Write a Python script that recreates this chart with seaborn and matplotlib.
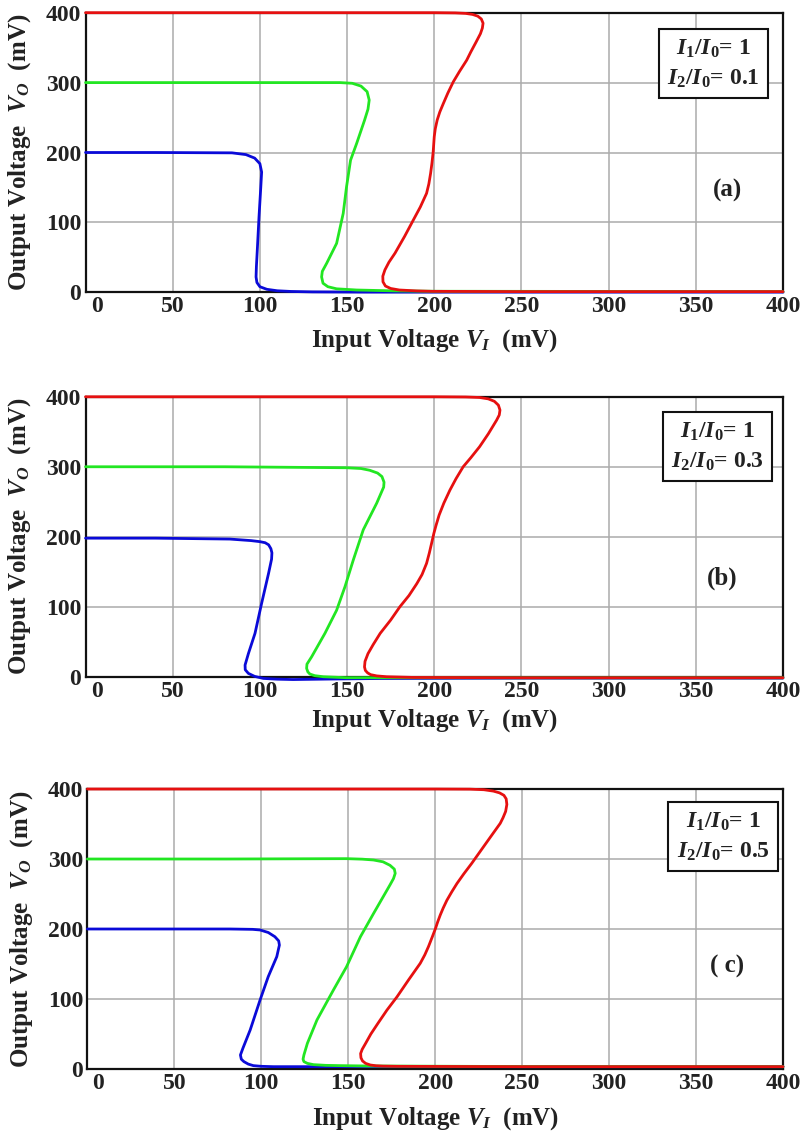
import numpy as np
import pandas as pd
import matplotlib
matplotlib.use("Agg")
import matplotlib.pyplot as plt
import matplotlib.transforms as mtransforms
import seaborn as sns

# ---------------- data ----------------
X_TICKS = [0, 50, 100, 150, 200, 250, 300, 350, 400]
Y_TICKS = [0, 100, 200, 300, 400]
PANEL_TAGS = ["(a)", "(b)", "( c)"]
RATIO_TEXT = ["0.1", "0.3", "0.5"]

# panel (a)
A_BLUE_X = [0, 40, 84, 92, 97, 100, 101, 100.5, 99.5, 98.5, 98, 97.8, 98.3, 100, 104, 110, 118, 130, 160, 250, 400]
A_BLUE_Y = [200, 200, 199.5, 197, 192, 184, 172, 150, 108, 60, 37, 22, 14, 8, 4.3, 2.2, 1.2, 0.6, 0.3, 0.3, 0.3]
A_GREEN_X = [0, 80, 146, 153, 158, 161.5, 162.7, 162, 160, 155.5, 152, 149.7, 147.8, 144, 138.3, 135.8, 135.4, 136.2, 139, 144, 155.5, 178, 200, 400]
A_GREEN_Y = [300, 300, 300, 299, 295, 287, 275, 262, 246, 213, 189, 151, 113, 70, 41.5, 30, 22, 13, 8, 5, 3.3, 2, 1.5, 1]
A_RED_X = [0, 100, 200, 212, 218, 222, 225, 227, 228, 227.6, 226.5, 224, 221, 218.6, 214.5, 210.9, 207.8, 205.2, 203.2,
           201.7, 200.6, 200, 199.4, 198.7, 197.9, 196.9, 195.6, 192, 188, 183, 177.5, 174, 171.7, 170.5, 170.6, 172,
           175, 180, 190, 199, 250, 400]
A_RED_Y = [400, 400, 400, 399.7, 399, 397.5, 395, 391, 385, 378, 370, 358, 344, 332, 316, 301, 285, 270, 258,
           246.5, 234, 222.6, 201, 185, 170, 155, 141.6, 122, 103.4, 80, 56, 43, 32, 23, 15, 9,
           5.5, 3.3, 2, 1.4, 1, 1]

# panel (b)
B_BLUE_X = [0, 40, 82.8, 95, 100, 103, 105, 106.3, 106.9, 106.7, 105, 101, 97.2, 93.4, 91.5, 91.6, 93.4, 97, 102, 110, 119, 140, 169, 250, 400]
B_BLUE_Y = [198, 198, 196.7, 194.5, 193, 191.5, 188.5, 183, 177, 168, 148, 105, 62, 33, 16.7, 10, 4.8, 0.5, -2.4, -3.5, -4, -3.3, -2.5, -2, -2]
B_GREEN_X = [0, 80, 149.7, 158, 163, 167.5, 170, 171.2, 171, 167, 159.3, 153.6, 148.8, 144, 137.3, 129.7, 127, 126.8, 127.5, 128.7, 131.5, 136.4, 149.7, 169, 250, 400]
B_GREEN_Y = [300, 300, 298.6, 297.5, 295, 291, 286, 278, 271, 248, 210, 167, 128.6, 95, 62, 28.6, 18, 12, 7, 3.8, 1.5, 0, -1.4, -1.4, -1.5, -1.5]
B_RED_X = [0, 100, 200, 218, 226, 231, 234.5, 236.8, 237.7, 237.3, 235.8, 231, 226, 221, 216.6, 212.5, 209, 205.5,
           202.8, 201, 199.8, 198.6, 197.2, 195.6, 193, 190, 185.5, 180.3, 175, 169, 165, 162, 160.3, 160, 160.5,
           161.8, 163.5, 167, 172.7, 188, 250, 400]
B_RED_Y = [400, 400, 400, 399.7, 399, 397, 393.5, 388, 381, 374, 366.7, 347, 328.6, 313, 300, 283, 266.7, 248,
           231, 216, 205, 192, 177, 162, 146, 133, 116, 100, 81, 62, 46, 33, 22, 14, 9,
           5.5, 3, 1.2, 0, -1, -1.5, -1.5]

# panel (c)
C_BLUE_X = [0, 40, 82, 95, 99.3, 104, 107.8, 110, 110.4, 108.9, 104, 99.3, 93.6, 89.4, 88, 88.5, 90, 92.5, 95.4, 100, 107, 130, 160, 250, 400]
C_BLUE_Y = [200, 200, 200, 199.5, 198.6, 195, 189, 183, 177, 160.5, 132, 98.6, 55.7, 29.5, 20, 14, 10.5, 7, 4.8, 3.8, 3.3, 3.3, 3.5, 3.3, 3.3]
C_GREEN_X = [0, 80, 149, 158, 164.5, 170, 174, 176.5, 177, 176, 174, 164.5, 157, 149, 141.5, 132, 126.5, 124.5, 124, 124.5, 126.5, 130, 137, 145, 160, 250, 400]
C_GREEN_Y = [300, 300, 300.5, 299.8, 298.6, 296, 291, 285.5, 279.5, 272, 263, 222, 189, 146, 113, 70, 36.7, 20, 14, 10.5, 8, 6.2, 5.2, 4.8, 4.3, 3.5, 3.3]
C_RED_X = [0, 100, 200, 220, 228, 233.5, 237, 239.5, 240.8, 241.2, 240.5, 239, 237.4, 232.5, 227.8, 221, 216.5,
           212.5, 209.5, 206.7, 204.6, 202.9, 201.4, 200.2, 198.2, 196.1, 194, 191.4, 188, 184.6, 181.3, 178, 172.2,
           167, 163, 160, 158, 157.1, 157.3, 158.2, 160, 162.7, 166, 170, 178, 250, 400]
C_RED_Y = [400, 400, 400, 399.8, 399, 397, 394.5, 391, 386, 378, 368, 359, 351, 334, 317.6, 293.8, 279,
           265, 253, 241, 230, 220, 210, 201, 188, 174.7, 163, 151, 139, 127, 115, 103, 84,
           65, 50, 36.7, 28, 22, 16, 11.5, 8, 5.7, 4.6, 4.1, 3.8, 3.3, 3.3]

COLORS = {"blue": "#0a0ad8", "green": "#22e622", "red": "#e61010"}

PANELS = [
    dict(curves=[("blue", A_BLUE_X, A_BLUE_Y), ("green", A_GREEN_X, A_GREEN_Y), ("red", A_RED_X, A_RED_Y)],
         rect=[0.1056, 0.742, 0.861, 0.2468], box=(360, 327), tag=(368, 146), xl=-0.125),
    dict(curves=[("blue", B_BLUE_X, B_BLUE_Y), ("green", B_GREEN_X, B_GREEN_Y), ("red", B_RED_X, B_RED_Y)],
         rect=[0.1056, 0.4027, 0.861, 0.2471], box=(362.5, 329), tag=(365, 141), xl=-0.11),
    dict(curves=[("blue", C_BLUE_X, C_BLUE_Y), ("green", C_GREEN_X, C_GREEN_Y), ("red", C_RED_X, C_RED_Y)],
         rect=[0.1079, 0.0565, 0.8588, 0.2471], box=(365.5, 332), tag=(368, 147), xl=-0.13),
]

# ---------------- style ----------------
sns.set_theme(style="whitegrid", rc={"grid.color": "#ababab", "grid.linewidth": 1.1})
plt.rcParams["font.family"] = ["Liberation Serif", "DejaVu Serif"]
plt.rcParams["font.weight"] = "bold"
plt.rcParams["mathtext.fontset"] = "custom"
plt.rcParams["mathtext.rm"] = "Liberation Serif:bold"
plt.rcParams["mathtext.it"] = "Liberation Serif:italic:bold"
plt.rcParams["mathtext.bf"] = "Liberation Serif:bold"

fig = plt.figure(figsize=(8.1, 11.33), dpi=100)

for i, p in enumerate(PANELS):
    ax = fig.add_axes(p["rect"])
    for name, xs, ys in p["curves"]:
        df = pd.DataFrame({"x": xs, "y": ys})
        sns.lineplot(data=df, x="x", y="y", sort=False, estimator=None,
                     color=COLORS[name], lw=2.0, ax=ax, zorder=4)
    for ln in ax.lines:
        ln.set_clip_on(False)
        ln.set_solid_joinstyle("round")

    ax.set_xlim(0, 400)
    ax.set_ylim(0, 400)
    ax.set_xticks(X_TICKS)
    ax.set_yticks(Y_TICKS)
    ax.set_xticklabels([str(t) for t in X_TICKS], fontsize=17, fontweight="bold")
    ax.set_yticklabels([str(t) for t in Y_TICKS], fontsize=17, fontweight="bold")
    ax.tick_params(length=0, pad=3, colors="#222222")
    # shift the first x tick label right, as in the reference
    lbl0 = ax.get_xticklabels()[0]
    lbl0.set_transform(lbl0.get_transform() +
                       mtransforms.ScaledTranslation(11 / 100, 0, fig.dpi_scale_trans))
    ax.grid(True, color="#ababab", lw=1.1)
    ax.set_axisbelow(True)
    for s in ax.spines.values():
        s.set_color("#111111")
        s.set_linewidth(1.6)
        s.set_visible(True)
        s.set_zorder(3)

    ax.set_xlabel(r"Input Voltage $V_I$  (mV)", fontsize=18, fontweight="bold", color="#222222")
    ax.set_ylabel(r"Output Voltage  $V_O$  (mV)", fontsize=18, fontweight="bold", color="#222222")
    ax.xaxis.set_label_coords(0.5, p["xl"])
    ax.yaxis.set_label_coords(-0.076, 0.5)

    bx, by = p["box"]
    ax.text(bx, by, r"$I_1/I_0$= 1" + "\n" + r"$I_2/I_0$= " + RATIO_TEXT[i],
            ha="center", va="center", fontsize=17, color="#222222", linespacing=1.45,
            zorder=6, bbox=dict(boxstyle="square,pad=0.35", fc="white", ec="#111111", lw=1.5))
    tx, ty = p["tag"]
    ax.text(tx, ty, PANEL_TAGS[i], ha="center", va="center", fontsize=18,
            fontweight="bold", color="#222222", zorder=6)

fig.savefig("out.png", dpi=100)
